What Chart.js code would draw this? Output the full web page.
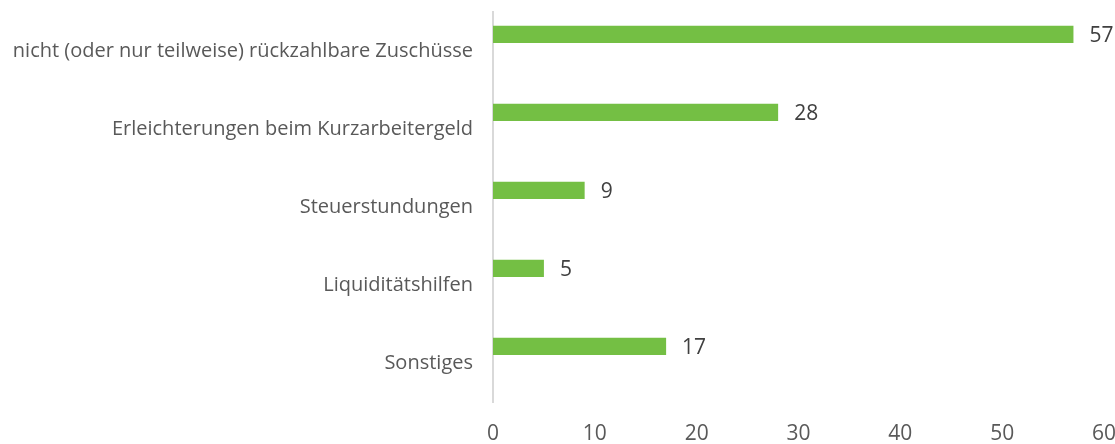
<!DOCTYPE html>
<html lang="de">
<head>
  <meta charset="UTF-8">
  <title>Genutzte Hilfen</title>
  <script src="https://cdn.jsdelivr.net/npm/chart.js"></script>
  <style>
    html, body { margin: 0; padding: 0; background: #fff; }
    #wrap { width: 1115px; height: 444px; }
  </style>
</head>
<body>
  <div id="wrap"><canvas id="hilfenChart"></canvas></div>

  <script>
    const categories = [
      'nicht (oder nur teilweise) rückzahlbare Zuschüsse',
      'Erleichterungen beim Kurzarbeitergeld',
      'Steuerstundungen',
      'Liquiditätshilfen',
      'Sonstiges'
    ];
    const values = [57, 28, 9, 5, 17];
    const spacer = [null, null, null, null, null];
    const xTicks = [0, 10, 20, 30, 40, 50, 60];

    const fontFamily = "'Open Sans', 'Noto Sans', sans-serif";

    // draws the value right of each bar
    const valueLabels = {
      id: 'valueLabels',
      afterDatasetsDraw(chart) {
        const ctx = chart.ctx;
        const meta = chart.getDatasetMeta(0);
        ctx.save();
        ctx.font = '21px ' + fontFamily;
        ctx.fillStyle = '#404040';
        ctx.textAlign = 'left';
        ctx.textBaseline = 'middle';
        meta.data.forEach((bar, i) => {
          ctx.fillText(String(values[i]), bar.x + 16, bar.y + 2);
        });
        ctx.restore();
      }
    };

    const ctx = document.getElementById('hilfenChart').getContext('2d');
    new Chart(ctx, {
      type: 'bar',
      data: {
        labels: categories,
        datasets: [
          {
            data: values,
            backgroundColor: '#74bf44',
            categoryPercentage: 0.85,
            barPercentage: 0.52
          },
          {
            data: spacer,
            backgroundColor: 'rgba(0,0,0,0)',
            categoryPercentage: 0.85,
            barPercentage: 0.52
          }
        ]
      },
      options: {
        indexAxis: 'y',
        responsive: true,
        maintainAspectRatio: false,
        animation: false,
        layout: { padding: { top: 12, right: 11, left: 0, bottom: 0 } },
        plugins: {
          legend: { display: false },
          tooltip: { enabled: false }
        },
        scales: {
          x: {
            min: 0,
            max: 60,
            afterBuildTicks: s => { s.ticks = xTicks.map(v => ({ value: v })); },
            afterFit: s => {
              s.height = 42;
              s.paddingLeft = 0;
              s.paddingRight = 0;
            },
            grid: { display: false, drawTicks: false },
            border: { display: false },
            ticks: {
              padding: 19,
              color: '#595959',
              font: { family: fontFamily, size: 21 }
            }
          },
          y: {
            afterFit: s => {
              s.width = 493;
              s.paddingTop = 0;
              s.paddingBottom = 0;
            },
            grid: { display: false, drawTicks: false },
            border: { display: true, color: '#d9d9d9', width: 2 },
            ticks: {
              padding: 20,
              color: '#595959',
              font: { family: fontFamily, size: 20 }
            }
          }
        }
      },
      plugins: [valueLabels]
    });
  </script>
</body>
</html>
